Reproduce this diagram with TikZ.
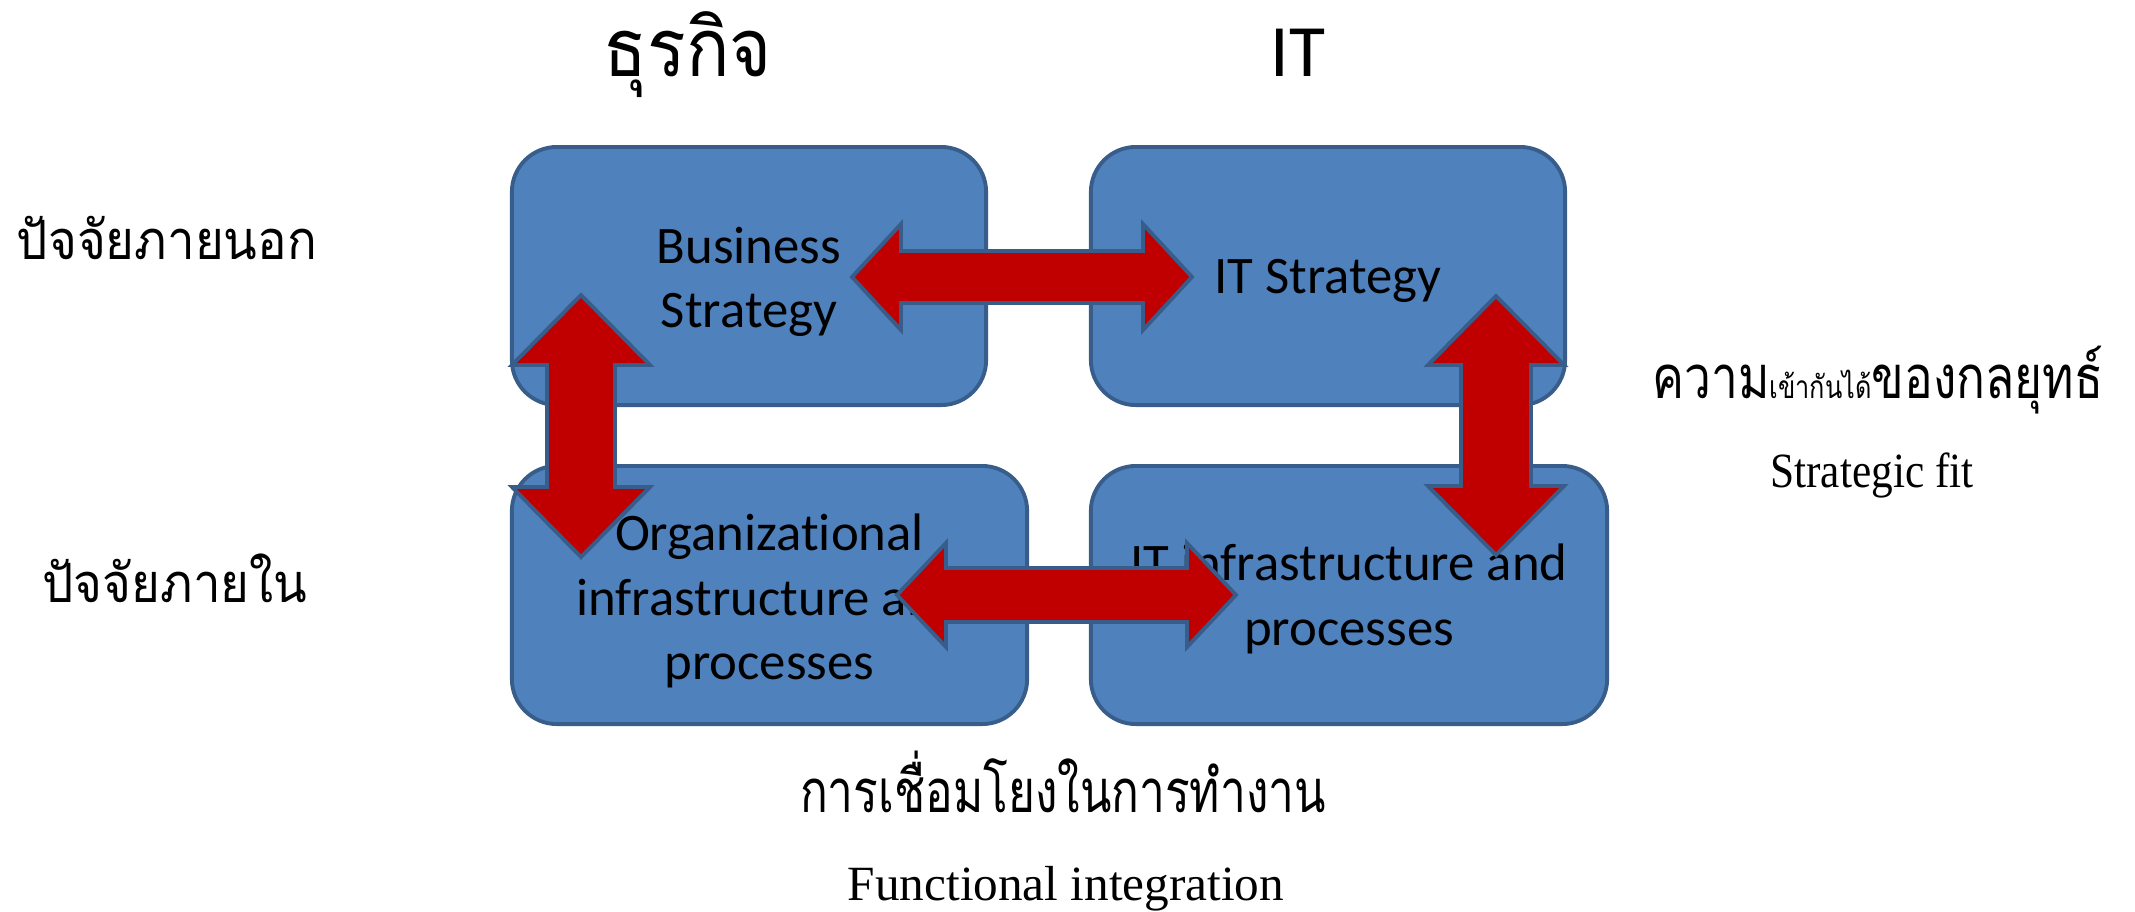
\documentclass[tikz,border=0pt]{standalone}
\usepackage{fontspec}
\setmainfont{Carlito}[Ligatures=NoCommon]
\newfontfamily\thaititle[Script=Thai,FakeStretch=0.89]{Loma}
\newfontfamily\thaiside[Script=Thai,FakeStretch=0.91]{Loma}
\newfontfamily\thaiang[Script=Thai,FakeStretch=0.8]{Loma}
\newfontfamily\thaiangb[Script=Thai,FakeStretch=0.77]{Loma}
\newfontfamily\timesfam{Liberation Serif}
\newfontfamily\timesnarrow[FakeStretch=0.88]{Liberation Serif}
\definecolor{boxfill}{HTML}{4F81BD}
\definecolor{boxline}{HTML}{385D8A}
\definecolor{arrred}{HTML}{C00000}
\tikzset{
  blockbox/.style={draw=boxline, fill=boxfill, line width=1.1pt, rounded corners=0.45cm,
     inner sep=0pt, minimum height=2.58cm},
  boxtext/.style={align=center, inner sep=0pt, font=\fontsize{15}{18.35}\selectfont},
  blockarrow/.style={draw=boxline, fill=arrred, line width=1.1pt},
  lbl/.style={anchor=base, inner sep=0pt},
}
\newcommand\harrowshape[6]{% left x, right x, centre y, shaft half, head half, head length
  \path[blockarrow] (#1,#3) -- ({#1+#6},{#3-#5}) -- ({#1+#6},{#3-#4}) -- ({#2-#6},{#3-#4})
    -- ({#2-#6},{#3-#5}) -- (#2,#3) -- ({#2-#6},{#3+#5}) -- ({#2-#6},{#3+#4})
    -- ({#1+#6},{#3+#4}) -- ({#1+#6},{#3+#5}) -- cycle;}
\newcommand\varrowshape[6]{% centre x, top y, bottom y, shaft half, head half, head length
  \path[blockarrow] (#1,#2) -- ({#1+#5},{#2+#6}) -- ({#1+#4},{#2+#6}) -- ({#1+#4},{#3-#6})
    -- ({#1+#5},{#3-#6}) -- (#1,#3) -- ({#1-#5},{#3-#6}) -- ({#1-#4},{#3-#6})
    -- ({#1-#4},{#2+#6}) -- ({#1-#5},{#2+#6}) -- cycle;}
\begin{document}
\begin{tikzpicture}[x=0.01cm,y=-0.01cm]
\useasboundingbox (0,0) rectangle (2135,911);
% boxes
\node[blockbox, minimum width=4.74cm] (bs) at (749,276) {};
\node[blockbox, minimum width=4.74cm] (its) at (1328,276) {};
\node[blockbox, minimum width=5.15cm] (oip) at (769.5,595) {};
\node[blockbox, minimum width=5.16cm] (itip) at (1349,595) {};
% box texts
\node[boxtext] (bst) at ([yshift=-0.06cm]bs.center) {Business\\Strategy};
\node[boxtext] (itst) at ([yshift=-0.05cm]its.center) {IT Strategy};
\node[boxtext] (oipt) at ([yshift=-0.06cm]oip.center) {Organizational\\infrastructure and\\processes};
\node[boxtext] (itipt) at ([yshift=-0.04cm]itip.center) {IT infrastructure and\\processes};
% arrows
\harrowshape{852}{1192}{277}{26}{53}{49}
\harrowshape{897}{1236}{595}{27}{52}{49}
\varrowshape{581}{295}{557}{34}{69}{70}
\varrowshape{1496}{296}{555}{35}{68}{69}
% titles
\node[lbl, font=\thaititle\fontsize{23}{27}\selectfont] (tbus) at (688,76) {ธุรกิจ};
\node[lbl, font=\fontsize{21}{25}\selectfont] (tit) at (1298,76) {IT};
% side labels
\node[lbl, font=\thaiside\fontsize{15.4}{18}\selectfont] (ext) at (167,259) {ปัจจัยภายนอก};
\node[lbl, font=\thaiside\fontsize{15.4}{18}\selectfont] (int) at (175,602) {ปัจจัยภายใน};
\node[lbl, font=\thaiang\fontsize{17}{20}\selectfont] (fit) at (1878,398) {ความ{\fontsize{9}{11}\selectfont เข้ากันได้}ของกลยุทธ์};
\node[lbl, font=\timesnarrow\fontsize{14}{17}\selectfont] (fiten) at (1872,487) {Strategic fit};
\node[lbl, font=\thaiangb\fontsize{17}{20}\selectfont] (integ) at (1063,812) {การเชื่อมโยงในการทำงาน};
\node[lbl, font=\timesfam\fontsize{14}{17}\selectfont] (integen) at (1066,900) {Functional integration};
\end{tikzpicture}
\end{document}
